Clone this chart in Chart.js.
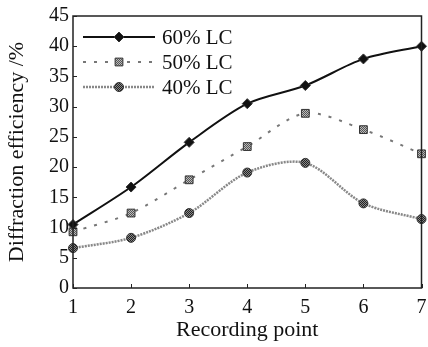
<!DOCTYPE html>
<html>
<head>
<meta charset="utf-8">
<script src="https://cdn.jsdelivr.net/npm/chart.js@4/dist/chart.umd.min.js"></script>
<style>
  html, body { margin: 0; padding: 0; background: #fff; }
  #wrap { width: 428px; height: 347px; position: relative; }
</style>
</head>
<body>
<div id="wrap"><canvas id="effChart"></canvas></div>
<script>
// Recording points on x axis
const recordingPoints = ['1', '2', '3', '4', '5', '6', '7'];
// Diffraction efficiency (%) for each LC concentration
const lc60 = [10.5, 16.7, 24.1, 30.5, 33.5, 37.9, 40.0];
const lc50 = [9.3, 12.4, 17.9, 23.4, 28.9, 26.2, 22.2];
const lc40 = [6.6, 8.3, 12.4, 19.1, 20.7, 14.0, 11.4];
const yTicks = [0, 5, 10, 15, 20, 25, 30, 35, 40, 45];

const serif = '"Liberation Serif", "DejaVu Serif", serif';

// small checkered fill like the scanned markers
function checker(dark, light) {
    const c = document.createElement('canvas');
    c.width = 2; c.height = 2;
    const g = c.getContext('2d');
    g.fillStyle = light; g.fillRect(0, 0, 2, 2);
    g.fillStyle = dark; g.fillRect(0, 0, 1, 1); g.fillRect(1, 1, 1, 1);
    return g.createPattern(c, 'repeat');
}

const squareFill = checker('#555', '#bbb');
const circleFill = checker('#222', '#888');

const series = [
    { label: '60% LC', data: lc60, color: '#111', width: 2, dash: [], style: 'rectRot', fill: '#111', radius: 5 },
    { label: '50% LC', data: lc50, color: '#777', width: 2, dash: [3, 8], style: 'rect', fill: squareFill, radius: 5.5 },
    { label: '40% LC', data: lc40, color: '#888', width: 2.5, dash: [2, 1], style: 'circle', fill: circleFill, radius: 4.5 }
];

// Box, inward ticks and the in-plot legend
const framePlugin = {
    id: 'frame',
    afterDraw(chart) {
        const ctx = chart.ctx;
        const a = chart.chartArea;
        const xs = chart.scales.x, ys = chart.scales.y;
        ctx.save();
        ctx.strokeStyle = '#222';
        ctx.lineWidth = 1.5;
        ctx.strokeRect(a.left, a.top, a.right - a.left, a.bottom - a.top);
        ctx.lineWidth = 1;
        ctx.beginPath();
        yTicks.forEach(v => {
            const py = Math.round(ys.getPixelForValue(v)) + 0.5;
            ctx.moveTo(a.left, py); ctx.lineTo(a.left + 4, py);
        });
        recordingPoints.forEach((p, i) => {
            const px = Math.round(xs.getPixelForValue(i)) + 0.5;
            ctx.moveTo(px, a.bottom); ctx.lineTo(px, a.bottom - 4);
        });
        ctx.stroke();

        // legend
        ctx.font = '21px ' + serif;
        ctx.textBaseline = 'middle';
        ctx.fillStyle = '#111';
        series.forEach((s, i) => {
            const y = 37 + i * 25;
            ctx.strokeStyle = s.color;
            ctx.lineWidth = s.width;
            ctx.setLineDash(s.dash);
            ctx.beginPath();
            ctx.moveTo(83, y); ctx.lineTo(155, y);
            ctx.stroke();
            ctx.setLineDash([]);
            ctx.fillStyle = s.fill;
            ctx.strokeStyle = '#333';
            ctx.lineWidth = 1;
            Chart.helpers.drawPoint(ctx, { pointStyle: s.style, radius: s.radius, borderWidth: 1 }, 119, y);
            ctx.fillStyle = '#111';
            ctx.fillText(s.label, 162, y + 1);
        });
        ctx.restore();
    }
};

new Chart(document.getElementById('effChart'), {
    type: 'line',
    data: {
        labels: recordingPoints,
        datasets: series.map(s => ({
            label: s.label,
            data: s.data,
            borderColor: s.color,
            borderWidth: s.width,
            borderDash: s.dash,
            tension: 0.3,
            pointStyle: s.style,
            pointRadius: s.radius,
            pointBackgroundColor: s.fill,
            pointBorderColor: '#333',
            pointBorderWidth: 1
        }))
    },
    options: {
        responsive: true,
        maintainAspectRatio: false,
        animation: false,
        layout: { padding: { top: 16, right: 0, left: 0, bottom: 0 } },
        plugins: { legend: { display: false }, tooltip: { enabled: false } },
        scales: {
            x: {
                offset: false,
                grid: { display: false, drawTicks: false },
                border: { display: false },
                ticks: { color: '#111', font: { family: serif, size: 20 }, padding: 8, maxRotation: 0 },
                title: { display: true, text: 'Recording point', color: '#111', font: { family: serif, size: 22 }, padding: { top: 0 } },
                afterFit(scale) {
                    scale.height = 59;
                    scale.paddingRight = 5;
                    scale.paddingLeft = 0;
                }
            },
            y: {
                min: 0, max: 45,
                afterBuildTicks(scale) { scale.ticks = yTicks.map(v => ({ value: v })); },
                grid: { display: false, drawTicks: false },
                border: { display: false },
                ticks: { color: '#111', font: { family: serif, size: 20 }, padding: 4 },
                title: { display: true, text: 'Diffraction efficiency /%', color: '#111', font: { family: serif, size: 22 }, padding: { top: 4, bottom: 0 } },
                afterFit(scale) {
                    scale.width = 73;
                    scale.paddingTop = 0;
                    scale.paddingBottom = 0;
                }
            }
        }
    },
    plugins: [framePlugin]
});
</script>
</body>
</html>
